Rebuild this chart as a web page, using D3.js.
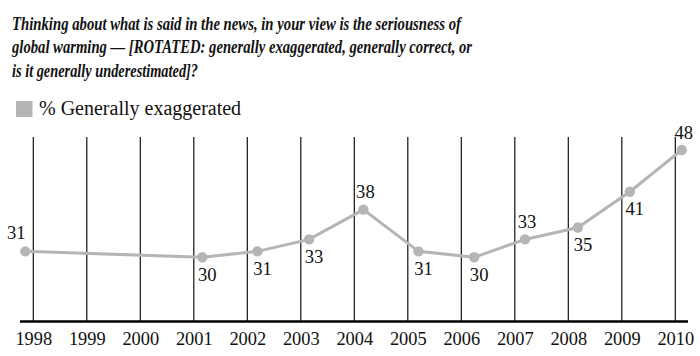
<!DOCTYPE html>
<html><head><meta charset="utf-8">
<script src="https://cdn.jsdelivr.net/npm/d3@7"></script>
<style>
html,body{margin:0;padding:0;background:#fff;}
svg{display:block;}
svg text{font-family:"Liberation Serif","Times New Roman",serif;}
</style></head>
<body>
<svg id="chart" width="700" height="356"></svg>
<script>
const titleLines = [
  "Thinking about what is said in the news, in your view is the seriousness of",
  "global warming \u2014 [ROTATED: generally exaggerated, generally correct, or",
  "is it generally underestimated]?"
];
const legendLabel = "% Generally exaggerated";
const years = [1998,1999,2000,2001,2002,2003,2004,2005,2006,2007,2008,2009,2010];
// poll dates as decimal years
const pollDates = [1997.85,2001.16,2002.19,2003.155,2004.17,2005.2,2006.24,2007.19,2008.18,2009.15,2010.12];
const exaggerated = [31,30,31,33,38,31,30,33,35,41,48];
const labelPlacement = ["aboveLeft","below","below","below","above","below","below","above","below","below","above"];

const svg = d3.select("#chart");
const grey = "#b5b5b8";
const serif = "\"Liberation Serif\", \"Times New Roman\", serif";

// title
const titleWidths = [449, 460, 186];
titleLines.forEach((t,i)=>{
  svg.append("text")
    .attr("x",12).attr("y",30+i*23.3)
    .style("font-family",serif).style("font-size","18.5px")
    .style("font-weight","bold").style("font-style","italic")
    .attr("fill","#111")
    .attr("textLength",titleWidths[i]).attr("lengthAdjust","spacingAndGlyphs")
    .text(t);
});

// legend
svg.append("rect").attr("x",16).attr("y",101).attr("width",16.5).attr("height",16).attr("fill",grey);
svg.append("text").attr("x",39).attr("y",115)
  .style("font-family",serif).style("font-size","20px").attr("fill","#111")
  .text(legendLabel);

const x = d3.scaleLinear().domain([1998,2010]).range([33.3,675.3]);
const y = d3.scaleLinear().domain([30,48]).range([257.3,150]);
const gridTop = 137, axisY = 321.5;

// vertical year lines
svg.append("g").selectAll("line").data(years).join("line")
  .attr("x1",d=>x(d)).attr("x2",d=>x(d))
  .attr("y1",gridTop).attr("y2",axisY)
  .attr("stroke","#111").attr("stroke-width",1.2);

// axis
const axis = d3.axisBottom(x).tickValues(years).tickFormat(d3.format("d")).tickSize(0).tickPadding(0);
const ag = svg.append("g").attr("transform",`translate(0,${axisY})`).call(axis);
ag.attr("font-family",null).attr("font-size",null);
ag.select(".domain").remove();
ag.append("line").attr("x1",20).attr("x2",688).attr("y1",0).attr("y2",0)
  .attr("stroke","#000").attr("stroke-width",2.6);
ag.selectAll(".tick text")
  .style("font-family",serif).style("font-size","18.4px").attr("fill","#111")
  .attr("dy",null).attr("y",23.5);

// line
const pts = pollDates.map((d,i)=>({d, v:exaggerated[i], p:labelPlacement[i]}));
svg.append("path").datum(pts)
  .attr("d", d3.line().x(p=>x(p.d)).y(p=>y(p.v)))
  .attr("fill","none").attr("stroke",grey).attr("stroke-width",3);
svg.append("g").selectAll("circle").data(pts).join("circle")
  .attr("cx",p=>x(p.d)).attr("cy",p=>y(p.v)).attr("r",5.2).attr("fill",grey);

// data labels
const off = {
  aboveLeft:{dx:-9,dy:-12},
  above:{dx:2,dy:-11.5},
  below:{dx:5,dy:23.5}
};
svg.append("g").selectAll("text").data(pts).join("text")
  .attr("x",p=>x(p.d)+off[p.p].dx)
  .attr("y",p=>y(p.v)+off[p.p].dy)
  .attr("text-anchor","middle")
  .style("font-family",serif).style("font-size","18.6px").attr("fill","#111")
  .text(p=>p.v);
</script>
</body></html>
